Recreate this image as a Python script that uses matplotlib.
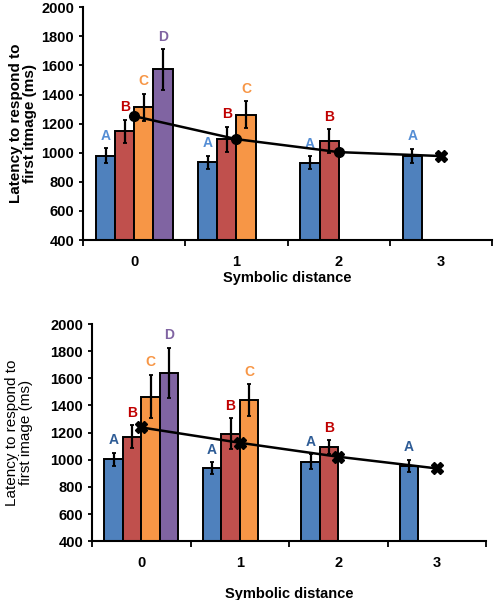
import numpy as np
import matplotlib
matplotlib.use("Agg")
import matplotlib.pyplot as plt

plt.rcParams['font.family'] = ['Liberation Sans', 'DejaVu Sans']

# ---- data ----
distances = [0, 1, 2, 3]
series_names = ['A', 'B', 'C', 'D']
bar_colors = ['#4F81BD', '#C0504D', '#F79646', '#8064A2']

# top panel: mean latency per series at each distance (None = no bar)
top_means = {
    'A': [980, 935, 930, 978],
    'B': [1148, 1093, 1080, None],
    'C': [1312, 1260, None, None],
    'D': [1572, None, None, None],
}
top_errs = {
    'A': [50, 45, 45, 50],
    'B': [80, 85, 80, None],
    'C': [92, 92, None, None],
    'D': [140, None, None, None],
}
top_line = [1251, 1093, 1004, 977]
top_letter_colors = ['#558ED5', '#C00000', '#F79646', '#8064A2']

# bottom panel
bot_means = {
    'A': [1002, 938, 985, 955],
    'B': [1169, 1192, 1095, None],
    'C': [1464, 1440, None, None],
    'D': [1638, None, None, None],
}
bot_errs = {
    'A': [50, 45, 55, 43],
    'B': [85, 112, 50, None],
    'C': [160, 115, None, None],
    'D': [185, None, None, None],
}
bot_line = [1238, 1125, 1022, 936]
bot_letter_colors = ['#2E5C96', '#C00000', '#F79646', '#8064A2']


def draw_panel(ax, means, errs, line_vals, letter_colors, markers, ylabel, ylabel_bold):
    width = 0.1875
    offsets = [-1.5 * width, -0.5 * width, 0.5 * width, 1.5 * width]
    for s, name in enumerate(series_names):
        for d in distances:
            m = means[name][d]
            if m is None:
                continue
            x = d + offsets[s]
            ax.bar(x, m - 400, bottom=400, width=width, color=bar_colors[s],
                   edgecolor='black', linewidth=1.4, zorder=2)
            e = errs[name][d]
            ax.errorbar(x, m, yerr=e, fmt='none', ecolor='black',
                        elinewidth=1.6, capsize=1.5, capthick=1.3, zorder=3)
            ax.annotate(name, (x, m + e), xytext=(0, 4), textcoords='offset points',
                        ha='center', va='bottom', fontsize=10, fontweight='bold',
                        color=letter_colors[s], zorder=4)
    ax.plot(distances, line_vals, color='black', linewidth=1.8, zorder=5)
    for d, mk in zip(distances, markers):
        ax.plot(d, line_vals[d], marker=mk, color='black', markersize=7 if mk == 'o' else 8,
                linestyle='none', zorder=6)

    ax.set_xlim(-0.5, 3.5)
    ax.set_ylim(400, 2000)
    ax.set_yticks(np.arange(400, 2001, 200))
    ax.set_xticks(distances)
    ax.set_xticks([-0.5, 0.5, 1.5, 2.5, 3.5], minor=True)
    ax.tick_params(axis='x', which='major', length=0, pad=11)
    ax.tick_params(axis='x', which='minor', length=4, width=1.3, direction='out')
    ax.tick_params(axis='y', length=3, width=1.3, direction='out')
    for lab in ax.get_xticklabels() + ax.get_yticklabels():
        lab.set_fontweight('bold')
        lab.set_fontsize(10.5)
    ax.spines['top'].set_visible(False)
    ax.spines['right'].set_visible(False)
    ax.spines['left'].set_linewidth(1.5)
    ax.spines['bottom'].set_linewidth(1.5)
    ax.set_ylabel(ylabel, fontsize=11, fontweight='bold' if ylabel_bold else 'normal',
                  linespacing=1.0, labelpad=3)


fig = plt.figure(figsize=(4.95, 6.0), dpi=100)
ax1 = fig.add_axes([0.168, 0.600, 0.826, 0.388])
ax2 = fig.add_axes([0.186, 0.098, 0.796, 0.362])

draw_panel(ax1, top_means, top_errs, top_line, top_letter_colors,
           ['o', 'o', 'o', 'X'], 'Latency to respond to\nfirst itmage (ms)', True)
ax1.set_xlabel('Symbolic distance', fontsize=10.5, fontweight='bold', labelpad=1)

draw_panel(ax2, bot_means, bot_errs, bot_line, bot_letter_colors,
           ['X', 'X', 'X', 'X'], 'Latency to respond to\nfirst image (ms)', False)
ax2.yaxis.set_label_coords(-0.15, 0.5)
ax2.set_xlabel('Symbolic distance', fontsize=10.5, fontweight='bold', labelpad=12)

fig.savefig('out.png', dpi=100)
